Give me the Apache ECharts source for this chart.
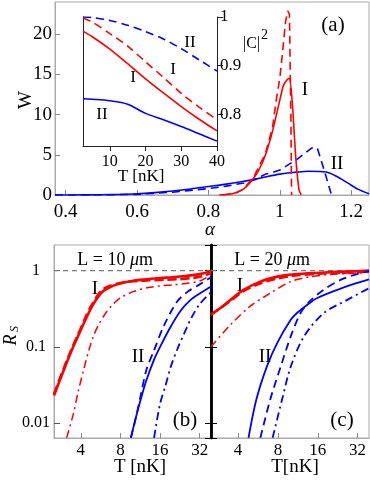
<!DOCTYPE html>
<html>
<head>
<meta charset="utf-8">
<script src="https://cdn.jsdelivr.net/npm/echarts@6/dist/echarts.min.js"></script>
<style>
  html, body { margin: 0; padding: 0; background: #fff; }
  #chart { width: 370px; height: 485px; }
</style>
</head>
<body>
<div id="chart"></div>
<script>
  // ---- panel (a): W vs alpha ----
  const aRedSolidX = [0.83, 0.86, 0.88, 0.9, 0.92, 0.94, 0.96, 0.98, 1.0, 1.01, 1.02, 1.027, 1.035, 1.045, 1.054, 1.06];
  const aRedSolidY = [0, 0.1, 0.35, 0.8, 1.7, 3.0, 5.0, 8.0, 11.8, 13.6, 14.3, 14.5, 11.5, 4.5, 0.6, 0];
  const aRedDashX = [0.84, 0.88, 0.9, 0.93, 0.96, 0.98, 0.99, 1.0, 1.008, 1.016, 1.022, 1.027, 1.031, 1.033];
  const aRedDashY = [0, 0.3, 0.8, 2.5, 5.2, 8.5, 11.8, 14.5, 17.9, 21.5, 22.9, 22.5, 10, 0];
  const aBlueSolidX = [0.37, 0.45, 0.5, 0.55, 0.6, 0.65, 0.7, 0.75, 0.8, 0.85, 0.9, 0.95, 1.0, 1.05, 1.08, 1.13, 1.16, 1.19, 1.22, 1.25];
  const aBlueSolidY = [0, 0.01, 0.03, 0.07, 0.15, 0.3, 0.5, 0.75, 1.05, 1.35, 1.7, 2.15, 2.6, 2.85, 2.95, 2.85, 2.3, 1.5, 0.7, 0.15];
  const aBlueDashX = [0.37, 0.5, 0.6, 0.7, 0.8, 0.85, 0.9, 0.93, 0.96, 0.98, 1.0, 1.05, 1.09, 1.105, 1.125, 1.145];
  const aBlueDashY = [0, 0.01, 0.08, 0.35, 0.8, 1.1, 1.5, 1.9, 2.6, 2.8, 3.1, 4.5, 5.85, 5.85, 3.0, 0];

  // ---- inset: |C|^2 vs T ----
  const insetT = [2.5, 5, 10, 15, 20, 25, 30, 35, 40];
  const cRedSolid = [0.971, 0.96, 0.934, 0.904, 0.873, 0.844, 0.816, 0.79, 0.766];
  const cRedDash = [0.998, 0.99, 0.966, 0.94, 0.908, 0.876, 0.843, 0.815, 0.789];
  const cBlueSolid = [0.832, 0.831, 0.828, 0.821, 0.802, 0.789, 0.775, 0.76, 0.745];
  const cBlueDash = [1.0, 0.999, 0.993, 0.983, 0.97, 0.955, 0.935, 0.912, 0.889];

  // ---- panel (b): R_S vs T, L = 10 um ----
  const bRedSolidT = [2.5, 3, 3.5, 4, 4.5, 5, 5.5, 6, 7, 8, 10, 12, 16, 20, 25, 32, 39];
  const bRedSolidR = [0.023, 0.052, 0.1, 0.167, 0.26, 0.37, 0.47, 0.55, 0.63, 0.68, 0.735, 0.765, 0.8, 0.82, 0.85, 0.9, 0.98];
  const bRedDashT = [2.5, 3, 3.5, 4, 4.5, 5, 5.5, 6, 7, 8, 10, 12, 16, 20, 25, 32, 39];
  const bRedDashR = [0.024, 0.055, 0.105, 0.175, 0.28, 0.39, 0.5, 0.58, 0.65, 0.69, 0.725, 0.74, 0.755, 0.765, 0.785, 0.83, 0.93];
  const bRedDotT = [3.12, 3.5, 3.8, 4.2, 4.6, 5, 5.5, 6.2, 7, 8, 10, 13, 16, 20, 25, 32, 39];
  const bRedDotR = [0.0064, 0.013, 0.025, 0.05, 0.09, 0.14, 0.2, 0.28, 0.36, 0.44, 0.53, 0.6, 0.63, 0.65, 0.68, 0.73, 0.88];
  const bBlueSolidT = [9.6, 10.5, 11.4, 12.5, 14.4, 16, 19.3, 23, 27.3, 32, 39];
  const bBlueSolidR = [0.0064, 0.012, 0.0203, 0.035, 0.068, 0.1, 0.185, 0.3, 0.413, 0.5, 0.62];
  const bBlueDashT = [9.6, 10.5, 11.4, 12.6, 14.4, 17, 21.5, 26, 32, 39];
  const bBlueDashR = [0.0064, 0.012, 0.023, 0.05, 0.09, 0.185, 0.39, 0.53, 0.66, 0.82];
  const bBlueDotT = [14.4, 16, 17.5, 19.3, 22, 24.4, 28, 32.3, 39];
  const bBlueDotR = [0.0064, 0.018, 0.03, 0.055, 0.1, 0.15, 0.25, 0.37, 0.52];

  // ---- panel (c): R_S vs T, L = 20 um ----
  const cRedSolidT = [2.5, 3, 3.5, 4.4, 5.9, 7.9, 10.6, 16.8, 25, 39];
  const cRedSolidR = [0.265, 0.33, 0.413, 0.56, 0.718, 0.834, 0.897, 0.94, 0.97, 1.0];
  const cRedDashT = [2.5, 3.5, 4.4, 6, 8, 10, 16, 25, 39];
  const cRedDashR = [0.265, 0.4, 0.54, 0.69, 0.79, 0.85, 0.91, 0.94, 0.97];
  const cRedDotT = [2.5, 3.5, 4.9, 7, 10, 14.1, 20, 28, 39];
  const cRedDotR = [0.1, 0.194, 0.337, 0.505, 0.718, 0.834, 0.89, 0.92, 0.95];
  const cBlueSolidT = [4.8, 5.5, 6.6, 7.9, 10, 11.2, 14, 16, 22.5, 30, 39];
  const cBlueSolidR = [0.0064, 0.0203, 0.055, 0.112, 0.226, 0.28, 0.38, 0.44, 0.56, 0.67, 0.77];
  const cBlueDashT = [5.9, 7, 8.4, 10, 11.9, 14, 17.7, 25.2, 39];
  const cBlueDashR = [0.0064, 0.0203, 0.055, 0.137, 0.28, 0.4, 0.56, 0.79, 0.99];
  const cBlueDotT = [7.3, 8.6, 10, 12.6, 17.7, 26.7, 39];
  const cBlueDotR = [0.0064, 0.0203, 0.055, 0.137, 0.276, 0.413, 0.588];

  const refT = [2.5, 39];
  const refR = [1, 1];

  const pairs = (xs, ys) => xs.map((x, i) => [x, ys[i]]);

  const RED = '#ff0000';
  const BLUE = '#0000ff';
  const FONT = 'Liberation Serif';
  const DASH = [8, 5];
  const DASHDOT = [8, 4, 2, 4];
  const FRAME = '#aaaaaa';

  const line = (xi, yi, data, color, type, width, smooth) => ({
    type: 'line', xAxisIndex: xi, yAxisIndex: yi, data: data,
    showSymbol: false, symbol: 'none', smooth: smooth || false, silent: true,
    lineStyle: { color: color, type: type, width: width }
  });

  const tickLabel = (size) => ({ fontFamily: FONT, fontSize: size, color: '#000' });

  // text helper for the annotations
  const txt = (x, y, text, size, extra) => Object.assign({
    type: 'text', x: x, y: y,
    style: Object.assign({ text: text, font: size + 'px "Liberation Serif"', fill: '#000', align: 'center', verticalAlign: 'middle' },
      (extra && extra.style) || {})
  }, extra && extra.rotation ? { rotation: extra.rotation } : {});

  const myChart = echarts.init(document.getElementById('chart'), null, { renderer: 'canvas' });

  const options = {
    backgroundColor: '#fff',
    animation: false,
    grid: [
      { left: 55, top: 2, width: 314, height: 193, show: true, borderColor: FRAME, borderWidth: 1 },
      { left: 83, top: 17, width: 134, height: 129 },
      { left: 54, top: 245, width: 157, height: 193, show: true, borderColor: FRAME, borderWidth: 1 },
      { left: 211, top: 245, width: 158, height: 193, show: true, borderColor: FRAME, borderWidth: 1 }
    ],
    xAxis: [
      {
        gridIndex: 0, type: 'value', min: 0.37, max: 1.25, splitNumber: 5,
        axisLine: { lineStyle: { color: FRAME } },
        axisTick: { inside: true, length: 5, lineStyle: { color: '#888' } },
        axisLabel: Object.assign(tickLabel(19), { margin: 8, showMinLabel: false, showMaxLabel: false }),
        splitLine: { show: false }
      },
      {
        gridIndex: 1, type: 'value', min: 2.5, max: 40, splitNumber: 5,
        axisLine: { lineStyle: { color: '#222' } },
        axisTick: { inside: false, length: 5, lineStyle: { color: '#222' } },
        axisLabel: Object.assign(tickLabel(16), { margin: 8, showMinLabel: false }),
        splitLine: { show: false }
      },
      {
        gridIndex: 2, type: 'log', logBase: 2, min: 2.5, max: 39,
        axisLine: { lineStyle: { color: FRAME } },
        axisTick: { inside: true, length: 5, lineStyle: { color: '#888' } },
        axisLabel: Object.assign(tickLabel(17), { margin: 4, showMinLabel: false, showMaxLabel: false,
          formatter: v => String(Math.round(v)) }),
        splitLine: { show: false }
      },
      {
        gridIndex: 3, type: 'log', logBase: 2, min: 2.5, max: 39,
        axisLine: { lineStyle: { color: FRAME } },
        axisTick: { inside: true, length: 5, lineStyle: { color: '#888' } },
        axisLabel: Object.assign(tickLabel(17), { margin: 4, showMinLabel: false, showMaxLabel: false,
          formatter: v => String(Math.round(v)) }),
        splitLine: { show: false }
      }
    ],
    yAxis: [
      {
        gridIndex: 0, type: 'value', min: 0, max: 24, interval: 5,
        axisLine: { lineStyle: { color: FRAME } },
        axisTick: { inside: true, length: 5, lineStyle: { color: '#888' } },
        axisLabel: Object.assign(tickLabel(19), { margin: 3, showMaxLabel: false }),
        splitLine: { show: false }
      },
      {
        gridIndex: 1, type: 'value', position: 'right', min: 0.735, max: 1, splitNumber: 2,
        axisLine: { show: true, lineStyle: { color: '#222' } },
        axisTick: { inside: false, length: 6, lineStyle: { color: '#222' } },
        axisLabel: Object.assign(tickLabel(17), { margin: 3, showMinLabel: false }),
        splitLine: { show: false }
      },
      {
        gridIndex: 1, type: 'value', position: 'left', min: 0.735, max: 1,
        axisLine: { show: true, lineStyle: { color: '#222' } },
        axisTick: { show: false }, axisLabel: { show: false }, splitLine: { show: false }
      },
      {
        gridIndex: 2, type: 'log', logBase: 10, min: 0.00636, max: 2.17,
        axisLine: { lineStyle: { color: FRAME } },
        axisTick: { inside: true, length: 6, lineStyle: { color: '#555' } },
        axisLabel: Object.assign(tickLabel(16), { margin: 18, align: 'center', showMinLabel: false, showMaxLabel: false,
          formatter: v => (v > 0.5 ? '1' : v > 0.05 ? '0.1' : '0.01') }),
        splitLine: { show: false }
      },
      {
        gridIndex: 2, type: 'log', logBase: 10, position: 'right', min: 0.00636, max: 2.17,
        axisLine: { show: true, lineStyle: { color: '#000', width: 2.5 } },
        axisTick: { inside: true, length: 6, lineStyle: { color: '#000' } },
        axisLabel: { show: false }, splitLine: { show: false }
      },
      {
        gridIndex: 3, type: 'log', logBase: 10, min: 0.00636, max: 2.17,
        axisLine: { show: true, lineStyle: { color: '#000', width: 2.5 } },
        axisTick: { inside: true, length: 6, lineStyle: { color: '#000' } },
        axisLabel: { show: false }, splitLine: { show: false }
      }
    ],
    series: [
      // (a)
      line(0, 0, pairs(aBlueSolidX, aBlueSolidY), BLUE, 'solid', 1.6, 0.3),
      line(0, 0, pairs(aBlueDashX, aBlueDashY), BLUE, DASH, 1.6, false),
      line(0, 0, pairs(aRedSolidX, aRedSolidY), RED, 'solid', 1.6, 0.2),
      line(0, 0, pairs(aRedDashX, aRedDashY), RED, DASH, 1.6, false),
      // inset
      line(1, 1, pairs(insetT, cBlueDash), BLUE, DASH, 1.6, 0.3),
      line(1, 1, pairs(insetT, cRedDash), RED, DASH, 1.6, 0.3),
      line(1, 1, pairs(insetT, cRedSolid), RED, 'solid', 1.6, 0.3),
      line(1, 1, pairs(insetT, cBlueSolid), BLUE, 'solid', 1.6, 0.3),
      // (b)
      line(2, 3, pairs(refT, refR), '#777', [5, 4], 1.2, false),
      line(2, 3, pairs(bRedDotT, bRedDotR), RED, DASHDOT, 1.5, 0.3),
      line(2, 3, pairs(bRedDashT, bRedDashR), RED, [9, 4], 2.6, 0.4),
      line(2, 3, pairs(bRedSolidT, bRedSolidR), RED, 'solid', 2.6, 0.4),
      line(2, 3, pairs(bBlueSolidT, bBlueSolidR), BLUE, 'solid', 1.8, 0.3),
      line(2, 3, pairs(bBlueDashT, bBlueDashR), BLUE, DASH, 1.8, 0.3),
      line(2, 3, pairs(bBlueDotT, bBlueDotR), BLUE, DASHDOT, 1.8, 0.3),
      // (c)
      line(3, 5, pairs(refT, refR), '#777', [5, 4], 1.2, false),
      line(3, 5, pairs(cRedDotT, cRedDotR), RED, DASHDOT, 1.5, 0.3),
      line(3, 5, pairs(cRedDashT, cRedDashR), RED, [9, 4], 2.6, 0.3),
      line(3, 5, pairs(cRedSolidT, cRedSolidR), RED, 'solid', 2.6, 0.3),
      line(3, 5, pairs(cBlueSolidT, cBlueSolidR), BLUE, 'solid', 1.8, 0.3),
      line(3, 5, pairs(cBlueDashT, cBlueDashR), BLUE, DASH, 1.8, 0.3),
      line(3, 5, pairs(cBlueDotT, cBlueDotR), BLUE, DASHDOT, 1.8, 0.3)
    ],
    graphic: [
      // panel (a)
      txt(333, 25, '(a)', 21),
      txt(305, 90, 'I', 19),
      txt(337, 164, 'II', 19),
      txt(26, 100, 'W', 19, { rotation: Math.PI / 2 }),
      txt(210, 230, 'α', 19, { style: { font: 'italic 19px "Liberation Serif"' } }),
      // inset
      txt(190, 43, 'II', 17),
      txt(173, 70, 'I', 17),
      txt(133, 78, 'I', 17),
      txt(102, 115, 'II', 17),
      txt(243, 44, '|C|', 16, { style: { align: 'left' } }),
      txt(261, 35, '2', 14, { style: { align: 'left' } }),
      txt(141, 177, 'T [nK]', 17),
      // panels (b), (c)
      txt(130, 260, 'L = 10 ', 18, { style: { align: 'right' } }),
      txt(130, 260, 'μ', 18, { style: { align: 'left', font: 'italic 18px "Liberation Serif"' } }),
      txt(139, 260, 'm', 18, { style: { align: 'left' } }),
      txt(287, 260, 'L = 20 ', 18, { style: { align: 'right' } }),
      txt(287, 260, 'μ', 18, { style: { align: 'left', font: 'italic 18px "Liberation Serif"' } }),
      txt(296, 260, 'm', 18, { style: { align: 'left' } }),
      txt(95, 289, 'I', 19),
      txt(138, 357, 'II', 19),
      txt(240, 286, 'I', 19),
      txt(265, 357, 'II', 19),
      txt(185, 420, '(b)', 21),
      txt(342, 420, '(c)', 21),
      txt(140, 467, 'T [nK]', 19),
      txt(295, 467, 'T[nK]', 19),
      txt(11, 340, 'R', 18, { rotation: Math.PI / 2, style: { font: 'italic 18px "Liberation Serif"' } }),
      txt(15, 329, 'S', 12, { rotation: Math.PI / 2, style: { font: 'italic 12px "Liberation Serif"' } })
    ]
  };

  myChart.setOption(options);
</script>
</body>
</html>
